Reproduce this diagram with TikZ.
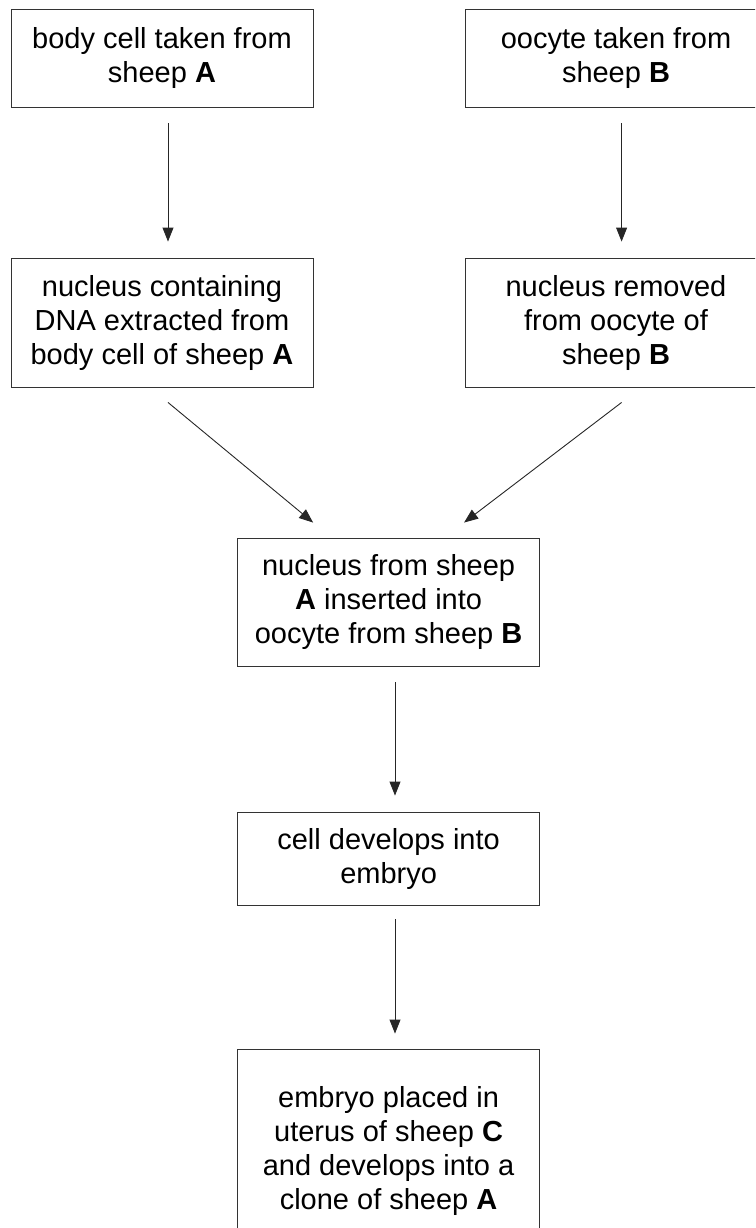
\documentclass[tikz,border=0pt]{standalone}
\usepackage{fontspec}
\setmainfont{Liberation Sans}
\usetikzlibrary{arrows.meta}
\tikzset{stage/.style={draw=black!80,line width=0.9pt,minimum width=302pt,inner sep=0pt,align=center,font=\fontsize{29}{34}\selectfont},
 arr/.style={draw=black!85,line width=0.9pt,-{Triangle[width=11pt,length=14pt]}}}
\begin{document}
\begin{tikzpicture}[x=1pt,y=-1pt]
 \useasboundingbox (0,0) rectangle (755,1228); \clip (0,0) rectangle (755,1228);
 % top row
 \node[stage,minimum height=98pt] (cellA) at (162,58) {body cell taken from\\sheep \textbf{A}};
 \node[stage,minimum height=98pt] (oocB) at (616,58) {oocyte taken from\\sheep \textbf{B}};
 \node[stage,minimum height=129pt] (nucA) at (162,322.5) {nucleus containing\\DNA extracted from\\body cell of sheep \textbf{A}};
 \node[stage,minimum height=129pt] (nucB) at (616,322.5) {nucleus removed\\from oocyte of\\sheep \textbf{B}};
 % middle column
 \node[stage,minimum height=128pt] (fuse) at (388.6,602) {nucleus from sheep\\\textbf{A} inserted into\\oocyte from sheep \textbf{B}};
 \node[stage,minimum height=93pt] (embryo) at (388.6,858.5) {cell develops into\\embryo};
 \node[stage,minimum height=204pt] (clone) at (388.6,1151) {embryo placed in\\uterus of sheep \textbf{C}\\and develops into a\\clone of sheep \textbf{A}};
 \draw[arr] ([xshift=6pt,yshift=-16pt]cellA.south) -- ([xshift=6pt,yshift=16pt]nucA.north);
 \draw[arr] ([xshift=5.6pt,yshift=-16pt]oocB.south) -- ([xshift=5.6pt,yshift=16pt]nucB.north);
 \draw[arr] ([xshift=6pt,yshift=-15pt]nucA.south) -- ([xshift=-75.5pt,yshift=15pt]fuse.north);
 \draw[arr] ([xshift=5.6pt,yshift=-15pt]nucB.south) -- ([xshift=75.5pt,yshift=15pt]fuse.north);
 \draw[arr] ([xshift=6.4pt,yshift=-16pt]fuse.south) -- ([xshift=6.4pt,yshift=16pt]embryo.north);
 \draw[arr] ([xshift=6.4pt,yshift=-14pt]embryo.south) -- ([xshift=6.4pt,yshift=15pt]clone.north);
\end{tikzpicture}
\end{document}
